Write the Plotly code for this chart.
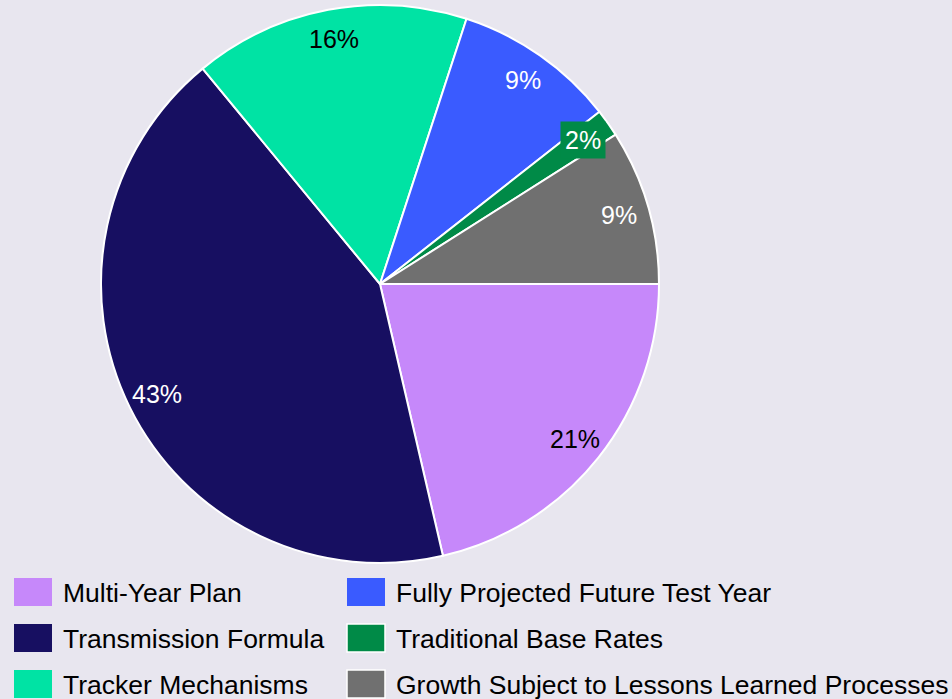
import math
import plotly.graph_objects as go

# ---- data ----
labels = [
    "Multi-Year Plan",
    "Transmission Formula",
    "Tracker Mechanisms",
    "Fully Projected Future Test Year",
    "Traditional Base Rates",
    "Growth Subject to Lessons Learned Processes",
]
values = [21.4, 42.7, 16.0, 9.4, 1.6, 9.0]
colors = ["#C688FA", "#170F61", "#00E3A4", "#3A5BFF", "#008A47", "#707070"]
label_font_colors = ["#000000", "#FFFFFF", "#000000", "#FFFFFF", "#FFFFFF", "#FFFFFF"]

# ---- layout geometry (pixels) ----
W, H = 952, 699
cx, cy, R = 380, 284, 279
BG = "#E8E6EF"
FONT = "Liberation Sans, Arial, sans-serif"

fig = go.Figure(
    go.Pie(
        labels=labels,
        values=values,
        sort=False,
        direction="clockwise",
        rotation=90,
        marker=dict(colors=colors, line=dict(color="white", width=2)),
        textinfo="none",
        hoverinfo="label+percent",
        showlegend=False,
        domain=dict(x=[(cx - R) / W, (cx + R) / W], y=[1 - (cy + R) / H, 1 - (cy - R) / H]),
    )
)

# ---- percentage labels placed at slice mid-angles ----
total = sum(values)
annotations = []
cum = 0.0
for lab, v, col, fc in zip(labels, values, colors, label_font_colors):
    frac = v / total
    mid = (cum + frac / 2) * 2 * math.pi  # clockwise from 3 o'clock
    cum += frac
    r = 0.893 * R
    px = cx + r * math.cos(mid)
    py = cy + r * math.sin(mid)
    pct = f"{round(frac * 100)}%"
    ann = dict(
        x=px / W, y=1 - py / H, xref="paper", yref="paper",
        text=pct, showarrow=False, xanchor="center", yanchor="middle",
        font=dict(family=FONT, size=25, color=fc),
    )
    if frac < 0.05:
        ann.update(bgcolor=col, borderpad=4)
    annotations.append(ann)

# ---- legend (2 columns, filled column-wise) ----
shapes = []
col_x = [14, 347]
row_y = [592, 638, 684]
sq_w, sq_h = 38, 28
for i, (lab, col) in enumerate(zip(labels, colors)):
    c, rr = divmod(i, 3)
    x0 = col_x[c]
    yc = row_y[rr]
    bordered = i >= 4
    shapes.append(dict(
        type="rect", xref="paper", yref="paper",
        x0=x0 / W, x1=(x0 + sq_w) / W,
        y0=1 - (yc + sq_h / 2) / H, y1=1 - (yc - sq_h / 2) / H,
        fillcolor=col,
        line=dict(width=1.5 if bordered else 0, color="white"),
    ))
    annotations.append(dict(
        x=(x0 + sq_w + 9) / W, y=1 - (yc + 1) / H, xref="paper", yref="paper",
        text=lab, showarrow=False, xanchor="left", yanchor="middle",
        font=dict(family=FONT, size=26.5, color="#000000"),
    ))

fig.update_layout(
    width=W, height=H,
    margin=dict(l=0, r=0, t=0, b=0),
    paper_bgcolor=BG, plot_bgcolor=BG,
    annotations=annotations,
    shapes=shapes,
    font=dict(family=FONT),
)

fig.write_html(
    "out.html",
    config={"displayModeBar": False},
    post_script="document.body.style.margin='0';document.body.style.background='%s';" % BG,
)
